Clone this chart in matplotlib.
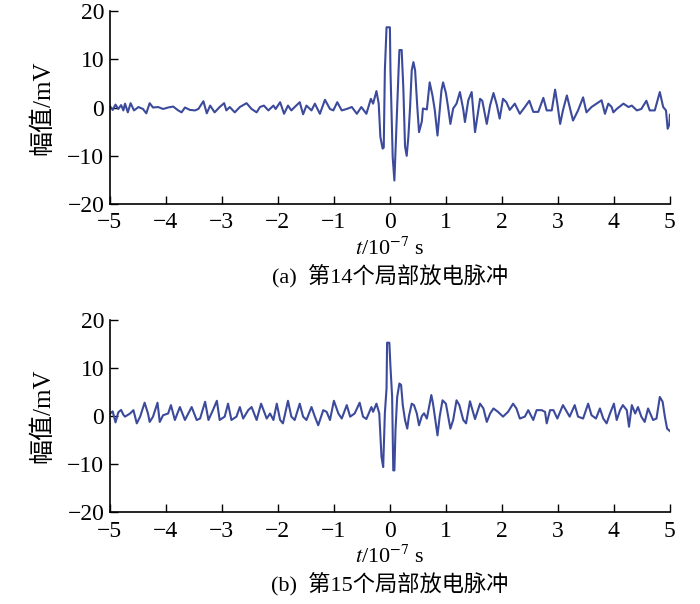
import matplotlib
matplotlib.use("Agg")
import matplotlib.pyplot as plt

plt.rcParams['font.family'] = ['Liberation Serif', 'Noto Sans CJK SC', 'DejaVu Sans']
plt.rcParams['mathtext.fontset'] = 'stix'
plt.rcParams['axes.unicode_minus'] = True

# (a) pulse 14: time (1e-7 s) and amplitude (mV)
t_a = [-5.0, -4.95, -4.9, -4.85, -4.8, -4.76,
       -4.73, -4.68, -4.63, -4.57, -4.49, -4.41, -4.35, -4.29, -4.23, -4.14,
       -4.05, -3.96, -3.87, -3.78, -3.72, -3.66, -3.57, -3.48, -3.42, -3.33,
       -3.27, -3.21, -3.13, -3.04, -2.96, -2.92, -2.86, -2.77, -2.68, -2.56,
       -2.47, -2.38, -2.32, -2.25, -2.17, -2.08, -2.04, -1.96, -1.89, -1.82,
       -1.76, -1.70, -1.61, -1.55, -1.49, -1.40, -1.34, -1.25, -1.16, -1.07,
       -1.01, -0.94, -0.86, -0.77, -0.68, -0.59, -0.51, -0.42, -0.34, -0.30,
       -0.24, -0.20, -0.17, -0.13, -0.11, -0.09, -0.06, 0.0, 0.01, 0.05,
       0.08, 0.12, 0.155, 0.17, 0.21, 0.24, 0.27, 0.30, 0.33, 0.36,
       0.39, 0.42, 0.45, 0.49, 0.52, 0.57, 0.59, 0.66, 0.71, 0.76,
       0.80, 0.85, 0.89, 0.92, 0.95, 1.0, 1.04, 1.08, 1.13, 1.19,
       1.25, 1.31, 1.34, 1.40, 1.46, 1.52, 1.61, 1.65, 1.73, 1.79,
       1.85, 1.91, 1.96, 2.02, 2.08, 2.14, 2.23, 2.32, 2.41, 2.49,
       2.56, 2.65, 2.74, 2.80, 2.89, 2.95, 2.99, 3.04, 3.09, 3.16,
       3.21, 3.27, 3.36, 3.45, 3.51, 3.60, 3.69, 3.78, 3.84, 3.90,
       3.96, 3.99, 4.05, 4.17, 4.26, 4.32, 4.41, 4.49, 4.58, 4.64,
       4.73, 4.82, 4.88, 4.93, 4.96, 4.99, 5.0]
v_a = [0.3, -0.5, 0.6, -0.3, 0.5, -0.6,
       0.8, -1.0, 0.9, -0.6, 0.1, -0.3, -1.2, 0.9, 0.0, 0.1,
       -0.3, 0.0, 0.2, -0.6, -1.0, 0.0, -0.5, -0.6, -0.3, 1.3,
       -1.2, 0.4, -1.0, 0.1, 0.9, -0.6, 0.1, -1.0, 0.1, 0.9,
       -0.3, -1.0, 0.1, 0.4, -0.6, 0.4, -0.3, 1.1, -1.3, 0.4,
       -0.6, 0.1, 1.1, -1.4, 0.4, -0.6, 0.8, -1.3, 1.6, -0.3,
       -0.6, 1.1, -0.6, -0.3, 0.1, -1.3, 0.1, -1.3, 1.8, 0.8,
       3.4, 0.8, -6.1, -8.5, -8.3, 7.7, 16.6, 16.6, 7.7, -10.3,
       -15.1, -2.7, 7.7, 11.9, 11.9, 4.0, -8.0, -10.0, -6.0, 0.0,
       7.7, 9.4, 7.7, 0.0, -5.1, -2.9, -0.2, -0.4, 5.2, 2.5,
       -0.4, -5.8, -0.4, 3.5, 5.2, 3.0, 0.0, -3.4, -0.2, 0.8,
       3.2, -0.4, -3.0, 1.5, 3.2, -5.1, 1.8, 1.4, -3.4, 0.5,
       3.0, 0.5, -2.3, 1.8, 1.1, -0.5, 0.8, -1.3, 0.1, 1.4,
       -0.9, -0.9, 2.0, -0.6, -0.6, 3.7, 0.8, -3.4, -0.6, 2.5,
       0.1, -2.7, -0.6, 2.1, -1.0, 0.1, 0.8, 1.5, -1.3, 0.8,
       0.1, -1.0, -0.3, 0.8, 0.1, 0.4, -0.6, -0.3, 1.4, -0.6,
       -0.6, 3.2, 0.1, -0.6, -4.4, -3.5, -1.5]

# (b) pulse 15
t_b = [-5.0, -4.95, -4.9, -4.85, -4.8, -4.76,
       -4.73, -4.64, -4.58, -4.52, -4.46, -4.38, -4.32, -4.29, -4.23, -4.15,
       -4.11, -4.05, -3.96, -3.91, -3.84, -3.75, -3.66, -3.57, -3.54, -3.45,
       -3.39, -3.30, -3.24, -3.16, -3.09, -3.04, -2.95, -2.89, -2.83, -2.74,
       -2.68, -2.62, -2.53, -2.47, -2.38, -2.30, -2.20, -2.14, -2.08, -2.02,
       -1.96, -1.91, -1.82, -1.76, -1.70, -1.61, -1.55, -1.49, -1.40, -1.34,
       -1.28, -1.19, -1.13, -1.07, -1.0, -0.92, -0.86, -0.77, -0.71, -0.63,
       -0.54, -0.48, -0.42, -0.33, -0.30, -0.24, -0.19, -0.15, -0.12, -0.09,
       -0.06, -0.05, -0.01, 0.01, 0.04, 0.06, 0.08, 0.10, 0.13, 0.17,
       0.20, 0.23, 0.27, 0.31, 0.34, 0.39, 0.43, 0.48, 0.52, 0.57,
       0.61, 0.66, 0.74, 0.77, 0.82, 0.85, 0.89, 0.94, 1.0, 1.04,
       1.08, 1.13, 1.19, 1.24, 1.31, 1.36, 1.43, 1.52, 1.61, 1.67,
       1.73, 1.79, 1.85, 1.93, 2.02, 2.11, 2.20, 2.26, 2.32, 2.41,
       2.47, 2.56, 2.62, 2.71, 2.77, 2.80, 2.86, 2.92, 2.99, 3.09,
       3.16, 3.21, 3.30, 3.36, 3.45, 3.54, 3.60, 3.68, 3.75, 3.81,
       3.87, 3.93, 4.0, 4.05, 4.11, 4.16, 4.23, 4.27, 4.32, 4.38,
       4.43, 4.49, 4.55, 4.61, 4.70, 4.76, 4.82, 4.87, 4.91, 4.95, 5.0]
v_b = [0.5, 1.0, -1.3, 0.8, 1.3, 0.3,
       -0.1, 0.55, 1.25, -1.5, -0.1, 2.8, 0.55, -1.2, -0.1, 2.8,
       -1.2, 0.2, 0.55, 2.3, -0.8, 1.9, -0.8, 1.25, 1.9, -0.8,
       -0.5, 3.0, -0.8, 1.25, 3.2, -0.8, -0.1, 2.6, -0.8, -0.1,
       1.9, -0.5, 1.25, 1.9, -0.8, 2.6, -0.5, 0.55, -0.8, 2.6,
       -0.8, -1.5, 3.2, -0.1, -0.8, 2.6, -0.1, -0.8, 1.9, -0.1,
       -1.9, 1.25, 0.9, -0.8, 3.2, 0.55, -0.5, 2.3, -0.1, 0.55,
       2.8, -0.1, -0.6, 1.9, 0.9, 2.6, 0.6, -8.5, -10.6, 0.6,
       5.8, 15.3, 15.3, 10.3, 4.0, -11.3, -11.3, -2.9, 4.0, 6.8,
       6.5, 2.3, -0.8, -2.6, 0.0, 2.6, 2.3, 0.6, -1.9, 0.0,
       0.6, -0.5, 4.4, 2.6, -1.5, -4.0, 0.0, 3.3, 2.6, 0.0,
       -2.6, -0.8, 3.3, 2.3, -0.8, -1.5, 3.1, -0.6, 2.6, 1.6,
       -1.2, 0.55, 1.6, 0.9, -0.1, 0.9, 2.6, 1.6, -0.5, -0.1,
       1.25, -0.8, 1.25, 1.25, 0.9, -1.5, 1.25, 1.25, -0.5, 2.3,
       0.9, -0.1, 2.3, -0.1, -0.5, 2.6, 0.2, -0.5, 1.6, -0.5,
       -1.5, 0.55, 2.6, -0.8, 1.25, 2.3, 1.25, -2.2, 2.3, 0.55,
       1.9, -0.1, -1.2, 1.6, -0.8, -0.5, 4.0, 3.0, -0.1, -2.6, -3.1]

xticks = [-5, -4, -3, -2, -1, 0, 1, 2, 3, 4, 5]
yticks = [-20, -10, 0, 10, 20]
captions = ['(a)  第14个局部放电脉冲', '(b)  第15个局部放电脉冲']

line_color = '#3c4a9c'

fig = plt.figure(figsize=(7.0, 6.04), dpi=100)
ax_a = fig.add_axes([0.157, 0.662, 0.8, 0.32])
ax_b = fig.add_axes([0.157, 0.152, 0.8, 0.318])

for ax, t, v, cap in [(ax_a, t_a, v_a, captions[0]), (ax_b, t_b, v_b, captions[1])]:
    ax.plot(t, v, color=line_color, lw=1.5)
    ax.set_xlim(-5, 5)
    ax.set_ylim(-20, 20)
    ax.set_xticks(xticks)
    ax.set_yticks(yticks)
    ax.spines['top'].set_visible(False)
    ax.spines['right'].set_visible(False)
    ax.spines['left'].set_linewidth(1.2)
    ax.spines['bottom'].set_linewidth(1.2)
    ax.tick_params(direction='in', length=6, width=1.0, labelsize=17)
    ax.tick_params(axis='x', pad=6)
    ax.tick_params(axis='y', pad=4)
    ax.set_xlabel(r'$t$/10$^{-7}$ s', fontsize=16, labelpad=0)
    ax.set_ylabel('幅值/mV', fontsize=18)
    ax.xaxis.set_label_coords(0.5, -0.175)
    ax.yaxis.set_label_coords(-0.1, 0.5)
    ax.text(0.5, -0.37, cap, transform=ax.transAxes, ha='center', va='center',
            fontsize=16)

fig.savefig('out.png', dpi=100)
